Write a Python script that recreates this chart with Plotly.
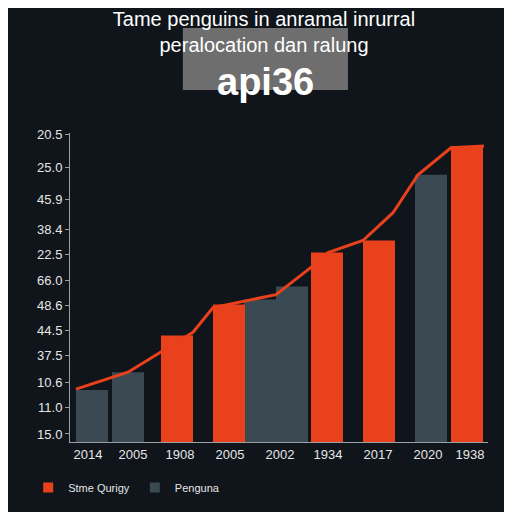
import plotly.graph_objects as go

x_ticks = [80, 125, 172, 222, 272, 320, 370, 420, 462]
x_labels = ["2014", "2005", "1908", "2005", "2002", "1934", "2017", "2020", "1938"]
y_ticks = [2.6, 11.3, 19.4, 28.1, 36.1, 44.2, 52.3, 60.6, 68.7, 78.4, 88.7, 99.4]
y_labels = ["15.0", "11.0", "10.6", "37.5", "44.5", "48.6", "66.0", "22.5", "38.4", "45.9", "25.0", "20.5"]

orange_x = [169, 221, 319, 371, 459]
orange_v = [34.5, 44.5, 61.3, 65.2, 95.8]
gray_x = [84, 120, 252, 284, 423]
gray_v = [16.8, 22.6, 46.1, 50.3, 86.5]
line_x = [68, 120, 185, 205, 268, 303, 320, 355, 385, 410, 443, 476]
line_v = [17.1, 22.6, 35.5, 43.5, 47.7, 56.5, 61.3, 65.2, 74.2, 86.5, 95.2, 95.8]

fig = go.Figure()
fig.add_bar(x=gray_x, y=gray_v, width=32, marker_color="#3b4a52",
            marker_line_width=0, name="Penguna", showlegend=False)
fig.add_bar(x=orange_x, y=orange_v, width=32, marker_color="#e8411c",
            marker_line_width=0, name="Stme Qurigy", showlegend=False)
fig.add_scatter(x=line_x, y=line_v, mode="lines", line=dict(color="#e8411c", width=3),
                showlegend=False)
fig.add_scatter(x=[None], y=[None], mode="markers", marker=dict(symbol="square", size=10, color="#e8411c"),
                name="Stme Qurigy")
fig.add_scatter(x=[None], y=[None], mode="markers", marker=dict(symbol="square", size=10, color="#3b4a52"),
                name="Penguna")

fig.update_layout(
    width=512, height=512, paper_bgcolor="#0f151b", plot_bgcolor="#0f151b",
    margin=dict(l=62, r=32, t=125, b=78), barmode="overlay",
    font=dict(family="Liberation Sans, Arial", color="#e6e6e6", size=13),
    title=dict(text="Tame penguins in anramal inrurral<br>peralocation dan ralung", x=0.5, y=0.965,
               xanchor="center", yanchor="top", font=dict(size=20, color="#ffffff")),
    xaxis=dict(range=[62, 480], tickvals=x_ticks, ticktext=x_labels, showgrid=False,
               showline=True, linecolor="#9aa0a6", ticks="", zeroline=False),
    yaxis=dict(range=[0, 100], tickvals=y_ticks, ticktext=y_labels, showgrid=False,
               showline=True, linecolor="#9aa0a6", ticks="outside", ticklen=4, tickcolor="#9aa0a6",
               zeroline=False),
    legend=dict(orientation="h", x=-0.1, y=-0.1, xanchor="left", yanchor="top",
                font=dict(size=11, color="#e6e6e6")),
    shapes=[dict(type="rect", xref="paper", yref="paper", x0=0.27, x1=0.665, y0=1.139, y1=1.34,
                 fillcolor="#6e6e6e", line_width=0, layer="above")],
    annotations=[dict(text="<b>api36</b>", xref="paper", yref="paper", x=0.4675, y=1.24,
                      showarrow=False, font=dict(size=38, color="#ffffff"))],
)
fig.write_html("out.html")
